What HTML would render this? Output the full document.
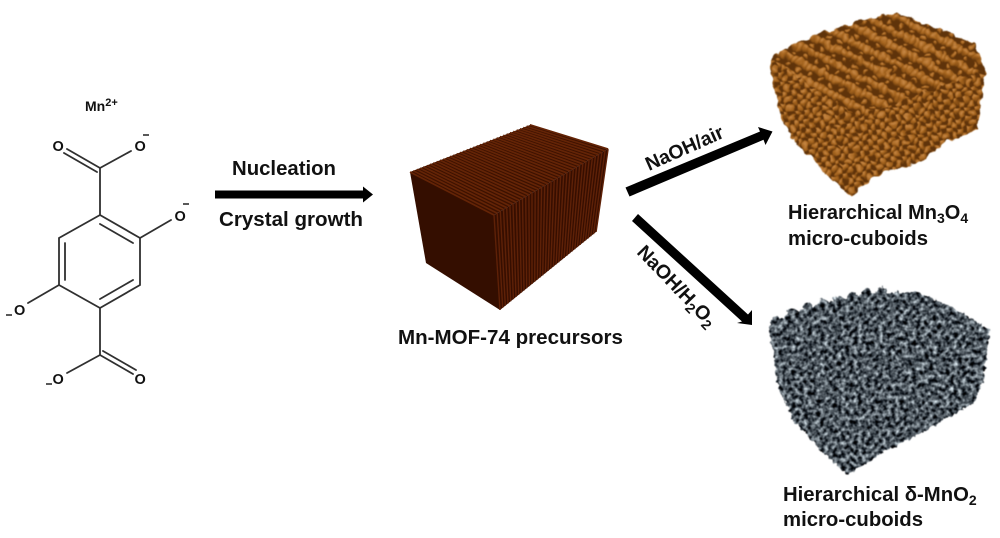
<!DOCTYPE html>
<html><head><meta charset="utf-8"><style>
html,body{margin:0;padding:0;background:#fff}
svg{display:block}
text{font-family:"Liberation Sans",sans-serif;font-weight:bold;fill:#111}
</style></head><body>
<svg width="1000" height="538" viewBox="0 0 1000 538" xmlns="http://www.w3.org/2000/svg">
<defs>
<radialGradient id="ball" cx=".4" cy=".35" r=".7">
<stop offset="0" stop-color="#c98a48"/><stop offset=".5" stop-color="#a5641e"/><stop offset="1" stop-color="#693a0b"/>
</radialGradient>
<pattern id="ballsTop" patternUnits="userSpaceOnUse" width="12" height="14" patternTransform="rotate(27 860 60)">
<rect width="12" height="14" fill="#5f330a"/>
<circle cx="3" cy="5" r="4.300" fill="url(#ball)"/><circle cx="9" cy="5" r="4.300" fill="url(#ball)"/><circle cx="6" cy="12" r="2.500" fill="url(#ball)"/>
</pattern>
<pattern id="ballsSide" patternUnits="userSpaceOnUse" width="10" height="10" patternTransform="rotate(-8)">
<rect width="10" height="10" fill="#5f330a"/>
<circle cx="2.500" cy="2.500" r="3.700" fill="url(#ball)"/><circle cx="7.500" cy="7.500" r="3.700" fill="url(#ball)"/>
</pattern>
<filter id="lump" x="-5%" y="-5%" width="110%" height="110%" color-interpolation-filters="sRGB">
<feTurbulence type="fractalNoise" baseFrequency=".11" numOctaves="2" seed="4" result="n"/>
<feDisplacementMap in="SourceGraphic" in2="n" scale="8" xChannelSelector="R" yChannelSelector="G"/>
<feGaussianBlur stdDeviation=".45"/>
</filter>
<filter id="rock" x="-5%" y="-5%" width="110%" height="110%" color-interpolation-filters="sRGB">
<feTurbulence type="fractalNoise" baseFrequency=".24" numOctaves="2" seed="9" result="n"/>
<feColorMatrix in="n" type="matrix" values="1.600 0 0 0 -.5  1.650 0 0 0 -.49  1.650 0 0 0 -.46  0 0 0 0 1" result="g"/>
<feDisplacementMap in="SourceGraphic" in2="n" scale="6" xChannelSelector="G" yChannelSelector="B" result="shape"/>
<feComposite in="g" in2="shape" operator="in"/>
<feGaussianBlur stdDeviation=".4"/>
</filter>
</defs>

<!-- molecule -->
<g stroke="#303030" stroke-width="1.8" fill="none" stroke-linecap="round">
<path d="M100 215L140 238V285L100 308L59 285V238Z"/>
<path d="M100 224L133 243M65 243V280M100 299L133 280"/>
<path d="M100 215V168M100 308V355"/>
<path d="M100 168L67 149M97 172L64 153M100 168L131 151"/>
<path d="M100 355L133 374M103 351L136 370M100 355L67 373"/>
<path d="M140 238L171 220M59 285L28 303"/>
</g>
<g font-size="14.5">
<text x="52.500" y="151">O</text><text x="134.500" y="151">O</text>
<text x="174.500" y="221">O</text><text x="14" y="315">O</text>
<text x="52.500" y="384">O</text><text x="134.500" y="384">O</text>
</g>
<g stroke="#222" stroke-width="1.5">
<path d="M143 135h6M183 204h6M6 315h6M46 384h6"/>
</g>
<text x="85" y="111" font-size="14">Mn<tspan font-size="11" dy="-5">2+</tspan></text>

<!-- arrows -->
<path d="M215 190.500H363V186.500L373 194.500L363 202.500V198.500H215Z" fill="#000"/>
<path d="M625.500 187.500L760 131.500L758 127L772.500 131.500L765.500 145L763.500 139.800L629.500 196.500Z" fill="#000"/>
<path d="M638 214L748 314.500L752 310L752 325L737 323L742 321.500L632 221Z" fill="#000"/>

<!-- labels -->
<text x="232" y="175" font-size="20" textLength="104" lengthAdjust="spacingAndGlyphs">Nucleation</text>
<text x="219" y="226" font-size="20" textLength="144" lengthAdjust="spacingAndGlyphs">Crystal growth</text>
<text x="398" y="344" font-size="20" textLength="225" lengthAdjust="spacingAndGlyphs">Mn-MOF-74 precursors</text>
<text transform="translate(649 171) rotate(-24)" font-size="19.500">NaOH/air</text>
<text transform="translate(636 253) rotate(46)" font-size="19.500">NaOH/H<tspan font-size="14" dy="4">2</tspan><tspan dy="-4">O</tspan><tspan font-size="14" dy="4">2</tspan></text>
<text x="788" y="219" font-size="20">Hierarchical Mn<tspan font-size="14" dy="4">3</tspan><tspan dy="-4">O</tspan><tspan font-size="14" dy="4">4</tspan></text>
<text x="788" y="245" font-size="20" textLength="140" lengthAdjust="spacingAndGlyphs">micro-cuboids</text>
<text x="783" y="501" font-size="20.300">Hierarchical δ-MnO<tspan font-size="14" dy="4">2</tspan></text>
<text x="783" y="526" font-size="20" textLength="140" lengthAdjust="spacingAndGlyphs">micro-cuboids</text>

<!-- MOF cube -->
<polygon points="410,172 494,215 500,310 426,263" fill="#340e00"/>
<polygon points="410,172 530,125 608,149 494,215" fill="#3c1100"/>
<polygon points="494,215 608,149 596,232 500,310" fill="#360e00"/>
<path stroke="#642406" stroke-width="1.700" fill="none" d="M410 172L494 215M413.300 170.700L497.200 213.200M416.700 169.400L500.300 211.300M420 168.100L503.500 209.500M423.300 166.800L506.700 207.700M426.700 165.500L509.900 205.900M430 164.100L513 204M433.300 162.800L516.200 202.200M436.600 161.500L519.400 200.400M440 160.200L522.500 198.500M443.300 158.900L525.700 196.700M446.600 157.600L528.900 194.900M450 156.300L532 193M453.300 155L535.200 191.200M456.600 153.700L538.400 189.400M460 152.400L541.600 187.600M463.300 151L544.700 185.700M466.600 149.700L547.900 183.900M469.900 148.400L551.100 182.100M473.300 147.100L554.200 180.200M476.600 145.800L557.400 178.400M479.900 144.500L560.600 176.600M483.300 143.200L563.700 174.700M486.600 141.900L566.900 172.900M489.900 140.600L570.100 171.100M493.300 139.300L573.300 169.300M496.600 137.900L576.400 167.400M499.900 136.600L579.600 165.600M503.200 135.300L582.800 163.800M506.600 134L585.900 161.900M509.900 132.700L589.100 160.100M513.200 131.400L592.300 158.300M516.600 130.100L595.400 156.400M519.900 128.800L598.600 154.600M523.200 127.500L601.800 152.800M526.600 126.200L605 151M529.900 124.800L608.100 149.100"/>
<path stroke="#5e2107" stroke-width="1.400" fill="none" d="M494 215L500 310M497.200 213.200L502.700 307.800M500.300 211.300L505.300 305.700M503.500 209.500L508 303.500M506.700 207.700L510.700 301.300M509.900 205.900L513.400 299.200M513 204L516 297M516.200 202.200L518.700 294.800M519.400 200.400L521.400 292.600M522.500 198.500L524 290.500M525.700 196.700L526.700 288.300M528.900 194.900L529.400 286.100M532 193L532 284M535.200 191.200L534.700 281.800M538.400 189.400L537.400 279.600M541.600 187.600L540.100 277.500M544.700 185.700L542.700 275.300M547.900 183.900L545.400 273.100M551.100 182.100L548.100 270.900M554.200 180.200L550.700 268.800M557.400 178.400L553.400 266.600M560.600 176.600L556.100 264.400M563.700 174.700L558.700 262.300M566.900 172.900L561.400 260.100M570.100 171.100L564.100 257.900M573.300 169.300L566.800 255.800M576.400 167.400L569.400 253.600M579.600 165.600L572.100 251.400M582.800 163.800L574.800 249.200M585.900 161.900L577.400 247.100M589.100 160.100L580.100 244.900M592.300 158.300L582.800 242.700M595.400 156.400L585.400 240.600M598.600 154.600L588.100 238.400M601.800 152.800L590.800 236.200M605 151L593.500 234.100M608.100 149.100L596.100 231.900"/>

<!-- Mn3O4 cuboid -->
<g filter="url(#lump)">
<polygon points="770,58 793,44 830,30 857,22 896,12 937,28 973,43 985,70 977,130 943,143 923,160 893,170 873,177 850,197 827,173 793,140 780,117 770,67" fill="url(#ballsSide)"/>
<polygon points="770,58 793,44 830,30 857,22 896,12 937,28 973,43 985,70 870,112 860,118" fill="url(#ballsTop)"/>
</g>

<!-- MnO2 cuboid -->
<g filter="url(#rock)">
<polygon points="768,327 790,313 827,303 867,293 917,292 957,310 990,330 983,383 973,403 927,430 887,450 847,475 823,453 793,420 777,383 773,350" fill="#000"/>
<g fill="#000"><circle cx="776" cy="322" r="5"/><circle cx="792" cy="314" r="5"/><circle cx="808" cy="308" r="5"/><circle cx="823" cy="304" r="5"/><circle cx="838" cy="301" r="5"/><circle cx="852" cy="297" r="5"/><circle cx="867" cy="294" r="5"/><circle cx="882" cy="292" r="5"/></g>
</g>
</svg>
</body></html>
